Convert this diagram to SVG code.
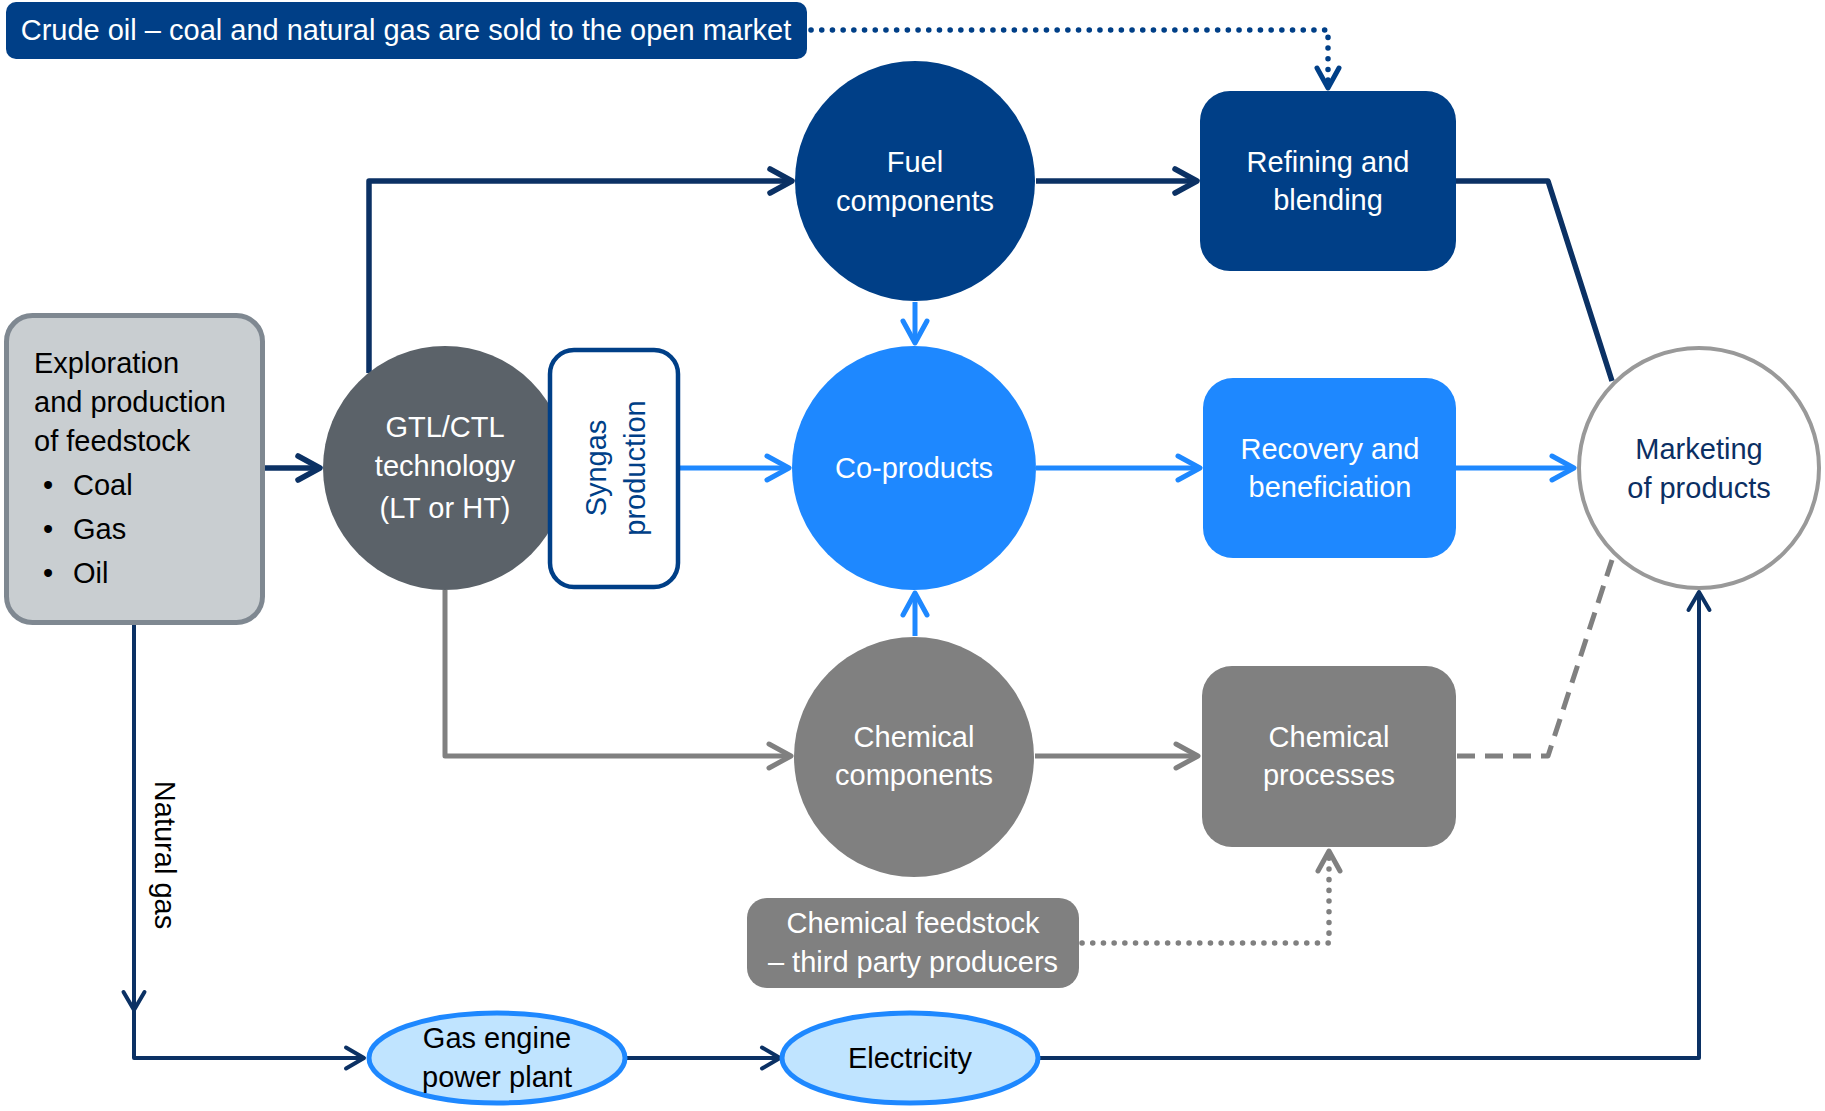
<svg xmlns="http://www.w3.org/2000/svg" width="1825" height="1111" viewBox="0 0 1825 1111">
<style>
text{font-family:"Liberation Sans",Arial,sans-serif;font-size:29px;}
.w{fill:#ffffff;text-anchor:middle;}
.k{fill:#000000;}
.n{fill:#0b2f63;text-anchor:middle;}
.ln{fill:none;stroke-linejoin:round;}
.navy{stroke:#0b3164;stroke-width:5.5;}
.navyT{stroke:#0b3164;stroke-width:4;}
.blue{stroke:#1e88ff;stroke-width:5;}
.gray{stroke:#808080;stroke-width:5;}
.dotN{stroke:#003f87;stroke-width:5.5;stroke-dasharray:0.1 10.6;stroke-linecap:round;}
.dotG{stroke:#808080;stroke-width:5.5;stroke-dasharray:0.1 10.6;stroke-linecap:round;}
.dash{stroke:#808080;stroke-width:5;stroke-dasharray:18 10;}
</style>
<defs>
<marker id="mNavy" markerUnits="userSpaceOnUse" markerWidth="40" markerHeight="40" viewBox="-30 -20 40 40" refX="0" refY="0" orient="auto" overflow="visible"><path d="M-22,-12 L0,0 L-22,12" fill="none" stroke="#0b3164" stroke-width="5.5" stroke-linecap="round" stroke-linejoin="round"/></marker>
<marker id="mNavyT" markerUnits="userSpaceOnUse" markerWidth="40" markerHeight="40" viewBox="-30 -20 40 40" refX="0" refY="0" orient="auto" overflow="visible"><path d="M-18,-10.5 L0,0 L-18,10.5" fill="none" stroke="#0b3164" stroke-width="4" stroke-linecap="round" stroke-linejoin="round"/></marker>
<marker id="mBlue" markerUnits="userSpaceOnUse" markerWidth="40" markerHeight="40" viewBox="-30 -20 40 40" refX="0" refY="0" orient="auto" overflow="visible"><path d="M-22,-12 L0,0 L-22,12" fill="none" stroke="#1e88ff" stroke-width="5" stroke-linecap="round" stroke-linejoin="round"/></marker>
<marker id="mGray" markerUnits="userSpaceOnUse" markerWidth="40" markerHeight="40" viewBox="-30 -20 40 40" refX="0" refY="0" orient="auto" overflow="visible"><path d="M-22,-12 L0,0 L-22,12" fill="none" stroke="#808080" stroke-width="5" stroke-linecap="round" stroke-linejoin="round"/></marker>
<marker id="mDotN" markerUnits="userSpaceOnUse" markerWidth="40" markerHeight="40" viewBox="-30 -20 40 40" refX="0" refY="0" orient="auto" overflow="visible"><path d="M-20,-11 L0,0 L-20,11" fill="none" stroke="#003f87" stroke-width="5" stroke-linecap="round" stroke-linejoin="round"/></marker>
<marker id="mDotG" markerUnits="userSpaceOnUse" markerWidth="40" markerHeight="40" viewBox="-30 -20 40 40" refX="0" refY="0" orient="auto" overflow="visible"><path d="M-20,-11 L0,0 L-20,11" fill="none" stroke="#808080" stroke-width="5" stroke-linecap="round" stroke-linejoin="round"/></marker>
</defs>
<rect width="1825" height="1111" fill="#ffffff"/>

<g id="connectors">
<path class="ln dotN" d="M811,30 H1328 V88" marker-end="url(#mDotN)"/>
<path class="ln navy" d="M264,468 H320" marker-end="url(#mNavy)"/>
<path class="ln navy" d="M369,373 V181 H792" marker-end="url(#mNavy)"/>
<path class="ln navy" d="M1036,181 H1197" marker-end="url(#mNavy)"/>
<path class="ln navy" d="M1456,181 H1548 L1612,381"/>
<path class="ln blue" d="M679,468 H789" marker-end="url(#mBlue)"/>
<path class="ln blue" d="M915,302 V343" marker-end="url(#mBlue)"/>
<path class="ln blue" d="M915,636 V593" marker-end="url(#mBlue)"/>
<path class="ln blue" d="M1036,468 H1200" marker-end="url(#mBlue)"/>
<path class="ln blue" d="M1456,468 H1574" marker-end="url(#mBlue)"/>
<path class="ln gray" d="M445,590 V756 H791" marker-end="url(#mGray)"/>
<path class="ln gray" d="M1035,756 H1198" marker-end="url(#mGray)"/>
<path class="ln dash" d="M1457,756 H1548 L1612,560"/>
<path class="ln dotG" d="M1082,943 H1329 V851" marker-end="url(#mDotG)"/>
<path class="ln navyT" d="M134,625 V1010" marker-end="url(#mNavyT)"/>
<path class="ln navyT" d="M134,1010 V1058 H364" marker-end="url(#mNavyT)"/>
<path class="ln navyT" d="M627,1058 H780" marker-end="url(#mNavyT)"/>
<path class="ln navyT" d="M1040,1058 H1699 V592" marker-end="url(#mNavyT)"/>
<text class="k" transform="translate(155,855) rotate(90)" text-anchor="middle">Natural gas</text>
</g>

<g id="banner">
<rect x="6" y="2" width="801" height="57" rx="10" fill="#003f87"/>
<text class="w" x="406" y="40" font-size="29.3">Crude oil – coal and natural gas are sold to the open market</text>
</g>

<g id="exploration">
<rect x="6.5" y="315.5" width="256" height="307" rx="26" fill="#c9ced1" stroke="#7f8891" stroke-width="5"/>
<text class="k" x="34" y="373">Exploration</text>
<text class="k" x="34" y="412">and production</text>
<text class="k" x="34" y="451">of feedstock</text>
<text class="k" x="43" y="495">•</text><text class="k" x="73" y="495">Coal</text>
<text class="k" x="43" y="539">•</text><text class="k" x="73" y="539">Gas</text>
<text class="k" x="43" y="583">•</text><text class="k" x="73" y="583">Oil</text>
</g>

<g id="gtl">
<circle cx="445" cy="468" r="122" fill="#5b6269"/>
<text class="w" x="445" y="437">GTL/CTL</text>
<text class="w" x="445" y="476">technology</text>
<text class="w" x="445" y="518">(LT or HT)</text>
</g>

<g id="syngas">
<rect x="550" y="350" width="128" height="237" rx="24" fill="#ffffff" stroke="#003f87" stroke-width="4.5"/>
<g transform="translate(613,468) rotate(-90)">
<text x="0" y="-7" fill="#003f87" text-anchor="middle">Syngas</text>
<text x="0" y="32" fill="#003f87" text-anchor="middle">production</text>
</g>
</g>

<g id="fuel">
<circle cx="915" cy="181" r="120" fill="#003f87"/>
<text class="w" x="915" y="172">Fuel</text>
<text class="w" x="915" y="211">components</text>
</g>

<g id="refining">
<rect x="1200" y="91" width="256" height="180" rx="30" fill="#003f87"/>
<text class="w" x="1328" y="172">Refining and</text>
<text class="w" x="1328" y="210">blending</text>
</g>

<g id="coproducts">
<circle cx="914" cy="468" r="122" fill="#1e88ff"/>
<text class="w" x="914" y="478">Co-products</text>
</g>

<g id="recovery">
<rect x="1203" y="378" width="253" height="180" rx="30" fill="#1e88ff"/>
<text class="w" x="1330" y="459">Recovery and</text>
<text class="w" x="1330" y="497">beneficiation</text>
</g>

<g id="marketing">
<circle cx="1699" cy="468" r="120" fill="#ffffff" stroke="#999999" stroke-width="4"/>
<text class="n" x="1699" y="459">Marketing</text>
<text class="n" x="1699" y="498">of products</text>
</g>

<g id="chemcomp">
<circle cx="914" cy="757" r="120" fill="#808080"/>
<text class="w" x="914" y="747">Chemical</text>
<text class="w" x="914" y="785">components</text>
</g>

<g id="chemproc">
<rect x="1202" y="666" width="254" height="181" rx="30" fill="#808080"/>
<text class="w" x="1329" y="747">Chemical</text>
<text class="w" x="1329" y="785">processes</text>
</g>

<g id="feedstock">
<rect x="747" y="898" width="332" height="90" rx="20" fill="#808080"/>
<text class="w" x="913" y="933">Chemical feedstock</text>
<text class="w" x="913" y="972">– third party producers</text>
</g>

<g id="gasengine">
<ellipse cx="497" cy="1058" rx="128" ry="45" fill="#c0e4ff" stroke="#1e88ff" stroke-width="5"/>
<text class="k" x="497" y="1048" text-anchor="middle">Gas engine</text>
<text class="k" x="497" y="1087" text-anchor="middle">power plant</text>
</g>

<g id="electricity">
<ellipse cx="910" cy="1058" rx="128" ry="45" fill="#c0e4ff" stroke="#1e88ff" stroke-width="5"/>
<text class="k" x="910" y="1068" text-anchor="middle">Electricity</text>
</g>
</svg>
